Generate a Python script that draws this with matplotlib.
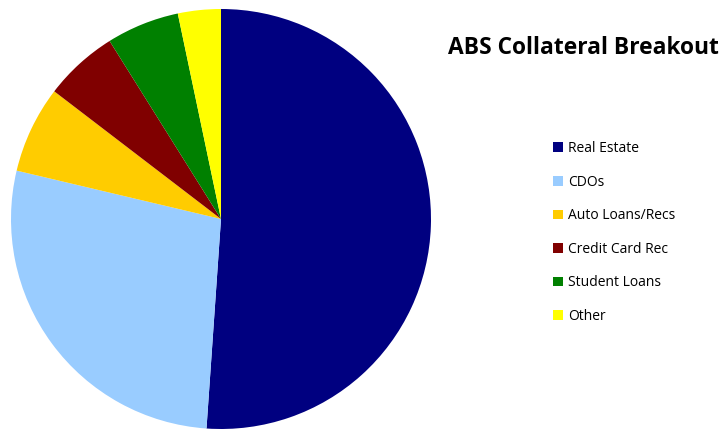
import matplotlib.pyplot as plt

categorias = ['Real Estate', 'CDOs', 'Auto Loans/Recs', 'Credit Card Rec', 'Student Loans', 'Other']
valores = [51.1, 27.6, 6.7, 5.7, 5.6, 3.3]
colores = ['#000080', '#99CCFF', '#FFCC00', '#800000', '#008000', '#FFFF00']

plt.rcParams['font.family'] = ['Open Sans', 'DejaVu Sans']

W, H = 724, 429
fig = plt.figure(figsize=(W / 100, H / 100), dpi=100)

# pie centrado en (221, 219) px con radio 210
cx, cy, r = 221, 219, 210
ax = fig.add_axes([(cx - r) / W, (H - cy - r) / H, 2 * r / W, 2 * r / H])
wedges, _ = ax.pie(valores, colors=colores, startangle=90, counterclock=False,
                   radius=1, wedgeprops=dict(linewidth=0))
ax.set_xlim(-1, 1)
ax.set_ylim(-1, 1)
ax.set_aspect('auto')
ax.set_axis_off()

fig.text(583 / W, 1 - 48 / H, 'ABS Collateral Breakout', fontsize=16.4, fontweight='bold',
         ha='center', va='center')

fig.legend(wedges, categorias, loc='upper left', bbox_to_anchor=(553 / W, 1 - 141 / H),
           frameon=False, fontsize=10, handlelength=0.7, handleheight=0.7,
           handletextpad=0.4, labelspacing=1.34, borderpad=0, borderaxespad=0)

fig.savefig('out.png', dpi=100)
